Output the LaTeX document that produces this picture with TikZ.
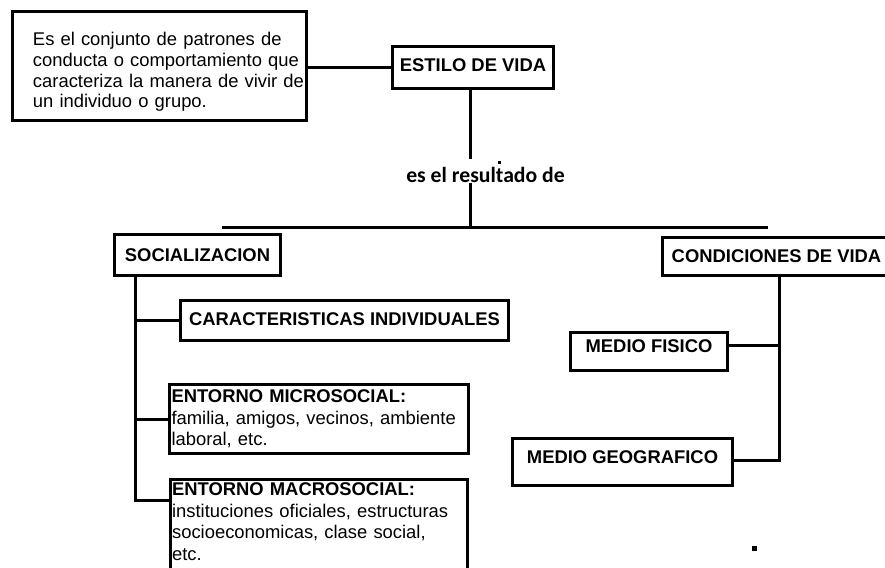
\documentclass[tikz,border=0pt]{standalone}
\usepackage{fontspec}
\setmainfont{Liberation Sans}
\newfontfamily\carlito{Carlito}
\usetikzlibrary{positioning}

\begin{document}
\begin{tikzpicture}[x=1pt, y=-1pt,
  caja/.style={draw, line width=3.2pt, inner sep=0pt, font=\fontsize{18.4}{20.7}\selectfont\bfseries},
  lista/.style={draw, line width=3.2pt, align=left, inner xsep=2pt, font=\fontsize{18.4}{21.5}\selectfont},
  enlace/.style={line width=3pt}]

  \useasboundingbox (0,0) rectangle (885,567);
  \clip (0,0) rectangle (885,567);

  % parte de arriba
  \node[draw, line width=3.2pt, align=left, inner sep=0pt, text width=294pt,
    minimum height=109pt, text height=25.3pt, font=\fontsize{18.4}{20.7}\selectfont] (def) at (159.5,66)
    {\leftskip=20.5pt Es el conjunto de patrones de\\conducta o comportamiento que\\caracteriza la manera de vivir de\\un individuo o grupo.\par};
  \node[caja, minimum width=161pt, minimum height=42pt, text depth=4pt] (estilo) at (473,67.5) {ESTILO DE VIDA};
  \node[inner sep=0pt, font=\fontsize{21.7}{24}\selectfont\carlito\bfseries] (res) at (485.5,175) {es el resultado de};

  \coordinate (eje) at (470.5,0);
  \coordinate (barL) at (222,227.5);
  \coordinate (barR) at (768,227.5);

  \draw[enlace] (estilo.west -| def.east) -- (estilo.west);
  \draw[enlace] (eje |- estilo.south) -- ([yshift=8pt]eje |- res.north);
  \draw[enlace] (eje |- res.south) -- (eje |- barL);
  \draw[enlace] (barL) -- (barR);
  \fill (497.5,160.5) rectangle (500.5,163.5);

  % socializacion
  \node[caja, minimum width=166pt, minimum height=41pt] (soc) at (197.5,255) {SOCIALIZACION};
  \node[caja, minimum width=328pt, minimum height=40pt, text depth=2pt] (car) at (344.5,320.5) {CARACTERISTICAS INDIVIDUALES};
  \node[lista, inner ysep=0pt, text width=295pt, minimum height=69pt] (micro) at (319,419)
    {\textbf{ENTORNO MICROSOCIAL:}\\familia, amigos, vecinos, ambiente\\laboral, etc.};
  \node[lista, anchor=north west, inner ysep=4pt, text width=293pt] (macro) at (168.5,477.5)
    {\textbf{ENTORNO MACROSOCIAL:}\\instituciones oficiales, estructuras\\socioeconomicas, clase social,\\etc.\rule[-30pt]{0pt}{0pt}};

  \coordinate (tronco) at (135.5,0);
  \coordinate (rama) at ([yshift=-23pt]macro.north west);
  \draw[enlace] (tronco |- soc.south) -- (tronco |- rama) -- (rama);
  \draw[enlace] (tronco |- car.west) -- (car.west);
  \draw[enlace] (tronco |- micro.west) -- (micro.west);

  % condiciones de vida
  \node[caja, minimum width=228pt, minimum height=38pt] (cond) at (776.5,256.5) {CONDICIONES DE VIDA};
  \node[caja, minimum width=157pt, minimum height=38pt, text depth=11pt] (fis) at (649,351.5) {MEDIO FISICO};
  \node[caja, minimum width=220pt, minimum height=47pt, text depth=10pt] (geo) at (622.5,462) {MEDIO GEOGRAFICO};

  \coordinate (tronco2) at (779.5,0);
  \coordinate (rf) at ([yshift=6pt]fis.east);
  \coordinate (rg) at ([yshift=2pt]geo.east);
  \draw[enlace] (tronco2 |- cond.south) -- (tronco2 |- rg) -- (rg);
  \draw[enlace] (rf) -- (tronco2 |- rf);
  \fill (752,546) rectangle (757,551);
\end{tikzpicture}
\end{document}
